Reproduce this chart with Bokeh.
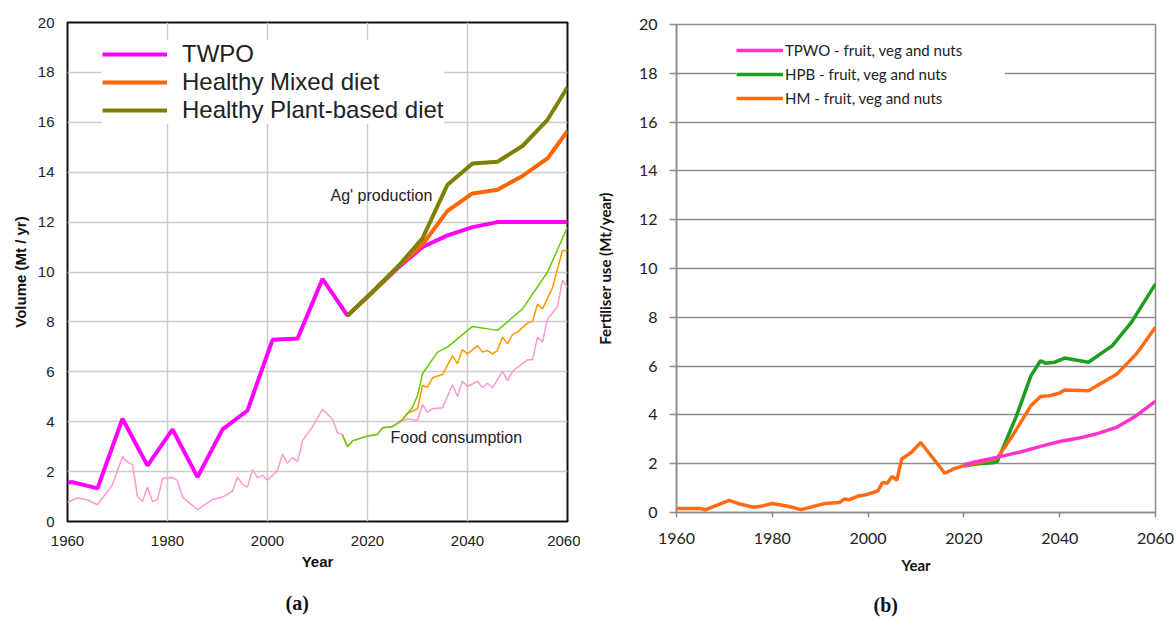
from bokeh.plotting import figure
from bokeh.models import Range1d, FixedTicker, Legend, LegendItem, Label, Title
from bokeh.layouts import row, column
from bokeh.embed import file_html
from bokeh.resources import INLINE

# ---------------- Panel (a): volume, Mt / yr ----------------
prod_twpo_years = [1960, 1961, 1966, 1971, 1976, 1981, 1986, 1991, 1996, 2001, 2006,
                   2011, 2016, 2021, 2026, 2031, 2036, 2041, 2046, 2051, 2056, 2060]
prod_twpo = [1.55, 1.58, 1.33, 4.12, 2.24, 3.69, 1.78, 3.69, 4.45, 7.28, 7.33,
             9.72, 8.25, 9.2, 10.15, 11.0, 11.47, 11.8, 12.0, 12.0, 12.0, 12.0]

prod_scen_years = [2016, 2021, 2026, 2031, 2036, 2041, 2046, 2051, 2056, 2060]
prod_hm = [8.25, 9.2, 10.2, 11.1, 12.45, 13.15, 13.3, 13.85, 14.55, 15.65]
prod_hpb = [8.25, 9.2, 10.2, 11.35, 13.5, 14.35, 14.42, 15.05, 16.1, 17.4]

food_twpo_years = [1960, 1962, 1964, 1966, 1969, 1971, 1972, 1973, 1974, 1975, 1976,
                   1977, 1978, 1979, 1981, 1982, 1983, 1986, 1989, 1991, 1993, 1994,
                   1995, 1996, 1997, 1998, 1999, 2000, 2002, 2003, 2004, 2005, 2006,
                   2007, 2009, 2011, 2013, 2014, 2015, 2016, 2017, 2020, 2022, 2023,
                   2025, 2027, 2028, 2030, 2031, 2032, 2033, 2035, 2037, 2038, 2039,
                   2040, 2042, 2043, 2044, 2045, 2047, 2048, 2049, 2050, 2052, 2053,
                   2054, 2055, 2056, 2058, 2059, 2060]
food_twpo = [0.76, 0.94, 0.87, 0.67, 1.48, 2.6, 2.38, 2.28, 1.0, 0.8, 1.38,
             0.8, 0.88, 1.72, 1.76, 1.64, 0.98, 0.48, 0.88, 0.98, 1.21, 1.79,
             1.48, 1.38, 2.08, 1.76, 1.85, 1.65, 2.05, 2.7, 2.33, 2.57, 2.4,
             3.24, 3.8, 4.5, 4.1, 3.56, 3.47, 3.0, 3.23, 3.43, 3.49, 3.76,
             3.8, 4.02, 4.12, 4.05, 4.69, 4.38, 4.52, 4.56, 5.48, 5.01, 5.62,
             5.41, 5.62, 5.36, 5.54, 5.36, 6.02, 5.65, 6.02, 6.18, 6.48, 6.48,
             7.39, 7.19, 8.12, 8.62, 9.66, 9.39]

food_hm_years = [2027, 2028, 2030, 2031, 2032, 2033, 2035, 2037, 2038, 2039, 2040,
                 2042, 2043, 2044, 2045, 2046, 2047, 2048, 2049, 2050, 2052, 2053,
                 2054, 2055, 2057, 2059, 2060]
food_hm = [4.08, 4.34, 4.52, 5.45, 5.38, 5.76, 5.89, 6.65, 6.32, 6.89, 6.72,
           7.05, 6.79, 6.85, 6.72, 6.85, 7.39, 7.12, 7.49, 7.59, 7.95, 8.02,
           8.72, 8.52, 9.37, 10.86, 10.86]

food_hpb_years = [2015, 2016, 2017, 2020, 2022, 2023, 2025, 2027, 2029, 2030, 2031,
                  2034, 2036, 2041, 2046, 2051, 2056, 2060]
food_hpb = [3.47, 3.0, 3.23, 3.43, 3.49, 3.76, 3.8, 4.08, 4.58, 5.05, 5.92,
            6.79, 6.99, 7.82, 7.66, 8.52, 9.99, 11.8]

year_ticks = [1960, 1980, 2000, 2020, 2040, 2060]
value_ticks = [0, 2, 4, 6, 8, 10, 12, 14, 16, 18, 20]

# ---------------- Panel (b): fertiliser use, Mt/year ----------------
fert_hm_years = [1960, 1965, 1966, 1969, 1971, 1973, 1976, 1978, 1980, 1983, 1986,
                 1989, 1991, 1994, 1995, 1996, 1998, 2000, 2002, 2003, 2004, 2005,
                 2006, 2007, 2009, 2011, 2016, 2018, 2020, 2023, 2027, 2030, 2034,
                 2036, 2038, 2040, 2041, 2046, 2050, 2052, 2056, 2060]
fert_hm = [0.16, 0.16, 0.11, 0.34, 0.5, 0.36, 0.22, 0.27, 0.37, 0.27, 0.12,
           0.27, 0.37, 0.41, 0.55, 0.52, 0.68, 0.75, 0.88, 1.23, 1.2, 1.48,
           1.33, 2.19, 2.46, 2.87, 1.61, 1.8, 1.92, 2.04, 2.24, 3.1, 4.38,
           4.75, 4.79, 4.9, 5.02, 4.99, 5.45, 5.68, 6.5, 7.59]

fert_twpo_years = [2020, 2023, 2027, 2032, 2036, 2040, 2044, 2048, 2052, 2056, 2060]
fert_twpo = [1.96, 2.1, 2.27, 2.49, 2.71, 2.91, 3.05, 3.24, 3.5, 3.97, 4.56]

fert_hpb_years = [2020, 2023, 2026, 2027, 2031, 2034, 2036, 2037, 2039, 2041, 2046,
                  2051, 2055, 2060]
fert_hpb = [1.9, 2.0, 2.04, 2.1, 3.97, 5.61, 6.22, 6.12, 6.16, 6.33, 6.16,
            6.84, 7.8, 9.37]

SANS = "Liberation Sans"
SERIF = "Liberation Serif"
CAL = "Lato"

# ================= figure (a) =================
p1 = figure(width=580, height=631, title=None,
            min_border_left=67, min_border_right=13, min_border_top=22, min_border_bottom=110,
            x_range=Range1d(1960, 2060), y_range=Range1d(0, 20),
            output_backend="svg", toolbar_location=None)
p1.xaxis.ticker = FixedTicker(ticks=year_ticks)
p1.yaxis.ticker = FixedTicker(ticks=value_ticks)
for ax in (p1.xaxis, p1.yaxis):
    ax.major_tick_line_color = None
    ax.minor_tick_line_color = None
    ax.axis_line_color = None
    ax.major_label_text_font = SANS
    ax.major_label_text_font_size = "15px"
    ax.major_label_text_color = "#222222"
    ax.axis_label_text_font = SANS
    ax.axis_label_text_font_size = "15px"
    ax.axis_label_text_font_style = "bold"
    ax.axis_label_text_color = "#111111"
p1.xaxis.major_label_standoff = 8
p1.yaxis.major_label_standoff = 7
p1.xaxis.axis_label = "Year"
p1.xaxis.axis_label_standoff = 4
p1.yaxis.axis_label = "Volume (Mt / yr)"
p1.yaxis.axis_label_standoff = 6
p1.grid.grid_line_color = "#cccccc"
p1.grid.grid_line_width = 1.5
p1.outline_line_color = "#111111"
p1.outline_line_width = 2
p1.outline_line_alpha = 1

p1.line(food_twpo_years, food_twpo, line_color="#ff99cc", line_width=1.5)
p1.line(food_hm_years, food_hm, line_color="#ff9900", line_width=1.5)
p1.line(food_hpb_years, food_hpb, line_color="#66cc00", line_width=1.5)
r_twpo = p1.line(prod_twpo_years, prod_twpo, line_color="#ff00ff", line_width=4)
r_hm = p1.line(prod_scen_years, prod_hm, line_color="#ff6600", line_width=4)
r_hpb = p1.line(prod_scen_years, prod_hpb, line_color="#808000", line_width=4)

leg1 = Legend(items=[LegendItem(label="TWPO", renderers=[r_twpo]),
                     LegendItem(label="Healthy Mixed diet", renderers=[r_hm]),
                     LegendItem(label="Healthy Plant-based diet", renderers=[r_hpb])],
              location=(35, 397), border_line_color=None,
              background_fill_color="white", background_fill_alpha=1.0,
              label_text_font=SANS, label_text_font_size="24px", label_text_color="#222222",
              glyph_width=65, glyph_height=28, label_height=28, label_standoff=15,
              padding=10, spacing=0, margin=0)
p1.add_layout(leg1, "center")

p1.add_layout(Label(x=2012.6, y=13.07, text="Ag' production", text_font=SANS,
                    text_font_size="16px", text_color="#222222", text_baseline="middle"))
p1.add_layout(Label(x=2024.6, y=3.37, text="Food consumption", text_font=SANS,
                    text_font_size="16px", text_color="#222222", text_baseline="middle"))
p1.add_layout(Title(text="(a)", align="left", offset=218, standoff=35,
                    text_font=SERIF, text_font_size="20px", text_font_style="bold",
                    text_color="#111111"), "below")

# ================= figure (b) =================
p2 = figure(width=596, height=631, title=None,
            min_border_left=96, min_border_right=21, min_border_top=24, min_border_bottom=118,
            x_range=Range1d(1960, 2060), y_range=Range1d(0, 20),
            output_backend="svg", toolbar_location=None)
p2.xaxis.ticker = FixedTicker(ticks=year_ticks)
p2.yaxis.ticker = FixedTicker(ticks=value_ticks)
for ax in (p2.xaxis, p2.yaxis):
    ax.minor_tick_line_color = None
    ax.axis_line_color = "#8c8c8c"
    ax.axis_line_width = 1.5
    ax.major_tick_line_color = "#8c8c8c"
    ax.major_tick_line_width = 1.5
    ax.major_tick_in = 0
    ax.major_label_text_font = CAL
    ax.major_label_text_font_size = "16px"
    ax.major_label_text_color = "#222222"
    ax.axis_label_text_font = CAL
    ax.axis_label_text_font_size = "15px"
    ax.axis_label_text_font_style = "bold"
    ax.axis_label_text_color = "#111111"
p2.xaxis.major_tick_out = 5
p2.yaxis.major_tick_out = 7
p2.xaxis.major_label_standoff = 15
p2.yaxis.major_label_standoff = 12
p2.xaxis.axis_label = "Year"
p2.xaxis.axis_label_standoff = 9
p2.yaxis.axis_label = "Fertiliser use (Mt/year)"
p2.yaxis.axis_label_standoff = 22
p2.xgrid.grid_line_color = None
p2.ygrid.grid_line_color = "#8c8c8c"
p2.ygrid.grid_line_width = 1.5
p2.outline_line_color = "#8c8c8c"
p2.outline_line_width = 1.5
p2.outline_line_alpha = 1

r2_hpb = p2.line(fert_hpb_years, fert_hpb, line_color="#1e9e1e", line_width=3.5)
r2_hm = p2.line(fert_hm_years, fert_hm, line_color="#ff6a13", line_width=3.5)
r2_twpo = p2.line(fert_twpo_years, fert_twpo, line_color="#ff33cc", line_width=3.5)

leg2 = Legend(items=[LegendItem(label="TPWO - fruit, veg and nuts", renderers=[r2_twpo]),
                     LegendItem(label="HPB - fruit, veg and nuts", renderers=[r2_hpb]),
                     LegendItem(label="HM - fruit, veg and nuts", renderers=[r2_hm])],
              location=(60, 404), border_line_color=None,
              background_fill_color="white", background_fill_alpha=1.0,
              label_text_font=CAL, label_text_font_size="15px", label_text_color="#222222",
              glyph_width=47, glyph_height=20, label_height=20, label_width=220,
              label_standoff=2, padding=14, spacing=4, margin=0)
p2.add_layout(leg2, "center")
p2.add_layout(Title(text="(b)", align="left", offset=197, standoff=31,
                    text_font=SERIF, text_font_size="20px", text_font_style="bold",
                    text_color="#111111"), "below")

layout = row(column(p1), column(p2))
open("out.html", "w").write(file_html(layout, INLINE))
